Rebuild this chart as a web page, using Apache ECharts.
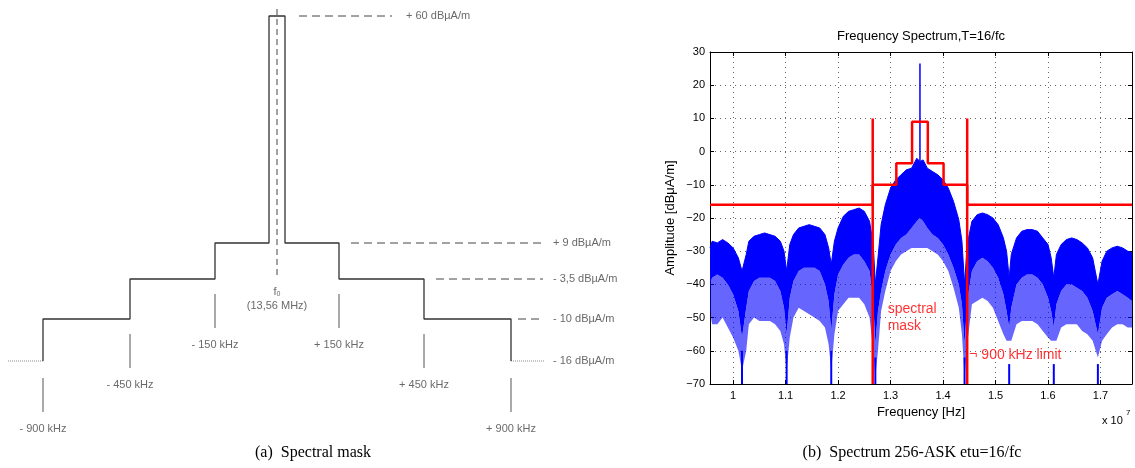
<!DOCTYPE html>
<html>
<head>
<meta charset="utf-8">
<title>Spectral mask / spectrum 256-ASK</title>
<script src="https://cdn.jsdelivr.net/npm/echarts@6/dist/echarts.min.js"></script>
<style>
  html, body { margin: 0; padding: 0; background: #fff; }
  #main { width: 1135px; height: 468px; }
</style>
</head>
<body>
<div id="main"></div>
<script>
/**
 * (a) spectral mask sketch  +  (b) spectrum 256-ASK etu=16/fc
 */

// ---- (a) the sketch is not to scale: x = drawing units from f0, y = drawing units below the +60 level
var schemLevelText = ['+ 60 dBµA/m', '+ 9 dBµA/m', '- 3,5 dBµA/m', '- 10 dBµA/m', '- 16 dBµA/m'];
var schemLevelY = [0, -227, -263, -303, -345];
var schemStepX = [-234, -147, -62, -8, 8, 62, 147, 234];
var schemStepLevel = [4, 3, 2, 1, 0, 1, 2, 3, 4];   // level index on each side of the steps
var schemOffsetText = ['- 900 kHz', '- 450 kHz', '- 150 kHz', '+ 150 kHz', '+ 450 kHz', '+ 900 kHz'];
var schemOffsetX = [-234, -147, -62, 62, 147, 234];
var schemTickTop = [-362, -318, -278, -278, -318, -362];
var schemLeaderFrom = [22, 74, 159, 241, 234];
var schemLeaderTo = [115, 266, 266, 266, 268];
var schemLabelX = [129, 276, 276, 276, 276];

// ---- (b) spectrum, frequency in MHz, level in dBµA/m
var specFreq = [
  9.56, 9.6, 9.7, 9.8, 9.9, 10.0, 10.1, 10.17, 10.25,
  10.3, 10.4, 10.5, 10.6, 10.7, 10.8, 10.9, 10.97, 11.02, 11.08,
  11.15, 11.25, 11.35, 11.45, 11.55, 11.65, 11.75, 11.82, 11.87, 11.93,
  12.0, 12.1, 12.2, 12.3, 12.4, 12.5, 12.6, 12.67, 12.71,
  12.76, 12.82, 12.9, 13.0, 13.1, 13.2, 13.3, 13.4, 13.5, 13.56, 13.62, 13.7, 13.8, 13.9, 14.0, 14.1, 14.2, 14.3, 14.36, 14.41,
  14.46, 14.55, 14.65, 14.75, 14.85, 14.95, 15.05, 15.15, 15.21, 15.26, 15.3,
  15.4, 15.5, 15.6, 15.7, 15.8, 15.9, 16.0, 16.06, 16.11, 16.16,
  16.25, 16.35, 16.45, 16.55, 16.65, 16.75, 16.85, 16.95,
  17.03, 17.12, 17.22, 17.32, 17.42, 17.52, 17.6
];
// upper edge of the trace
var specTop = [
  -29, -27, -27.5, -26.5, -27.5, -29, -32, -36, -31,
  -27, -25.5, -25, -24.5, -25, -25.5, -27, -30, -36, -28,
  -25, -23, -22.5, -22, -22.5, -23, -25, -29, -34, -27,
  -23, -19.5, -18, -17.5, -17, -18, -21, -28, -40,
  -32, -22, -16, -11, -8.5, -7, -5.5, -5, -2, -3, -2.5, -5, -6, -7, -8.5, -11, -15, -20.5, -27, -40,
  -28, -21, -19, -18.5, -19, -20, -22, -26, -30, -38, -31,
  -26, -24, -23.5, -23.5, -24, -26, -28, -32, -38, -31,
  -28, -26.5, -26, -26.5, -27.5, -29, -32, -40,
  -33, -30, -29, -28.5, -29, -30, -30.5
];
// lower edge of the dense part
var specBody = [
  -40, -38, -37, -38, -40, -43, -48, -56, -47,
  -42, -39, -38, -38, -38, -39, -42, -47, -55, -44,
  -39, -36, -35, -35, -35, -36, -40, -45, -54, -43,
  -37, -34, -32, -31, -31, -33, -36, -45, -58,
  -48, -42, -36, -31, -28, -26, -25, -23, -21, -20, -21, -23, -25, -26, -28, -31, -35, -40, -46, -58,
  -45, -36, -33, -32, -33, -35, -38, -43, -48, -53, -47,
  -40, -38, -37, -37, -38, -40, -44, -48, -53, -46,
  -42, -40, -40, -41, -42, -44, -48, -55,
  -47, -44, -43, -42, -43, -44, -45
];
// tips of the downward spikes
var specFloor = [
  -48, -52, -52, -50, -53, -56, -60, -66, -60,
  -52, -50, -51, -51, -51, -52, -54, -58, -66, -56,
  -50, -47, -48, -49, -50, -51, -53, -58, -66, -55,
  -48, -46, -44, -44, -44, -46, -50, -60, -68,
  -60, -48, -42, -36, -33, -31, -30, -29, -29, -29, -29, -29, -30, -31, -33, -36, -41, -47, -55, -68,
  -58, -46, -45, -44, -45, -47, -51, -55, -57, -57, -57,
  -52, -51, -51, -51, -52, -54, -56, -57, -57, -57,
  -53, -52, -52, -52, -54, -55, -57, -62,
  -57, -55, -53, -52, -52, -53, -53
];
// spectral nulls (every fc/16) where the trace drops to the axis floor
var dipFreq = [10.17, 11.02, 11.87, 12.71, 14.41, 15.26, 16.11, 16.95];
var dipTop = [-60, -60, -60, -62, -62, -64, -64, -64];
var dipBottom = -70;
var carrierFreq = 13.56;
var carrierPeak = 26.5;
var carrierBase = -3;

// red mask: edges and the level between them
var maskEdges = [12.66, 13.11, 13.41, 13.71, 14.01, 14.46];
var maskLevels = [-16, -10, -3.5, 9, -3.5, -10, -16];
var limitFreq = [12.66, 14.46];
var limitSpan = [-70, 10];

var fMin = 9.56, fMax = 17.6;
var freqTicks = [10, 11, 12, 13, 14, 15, 16, 17];

var BLUE = '#0000ff', RED = '#ff0000';
var SANS = '"Liberation Sans", Arial, sans-serif';
var SERIF = '"Liberation Serif", "Times New Roman", serif';

// ---------------------------------------------------------------

function segmentRenderer(style) {
    return function(params, api) {
        var a = api.coord([api.value(0), api.value(1)]);
        var b = api.coord([api.value(2), api.value(3)]);
        return {
            type: 'line',
            shape: { x1: a[0], y1: a[1], x2: b[0], y2: b[1] },
            style: Object.assign({ fill: null }, style)
        };
    };
}

function segSeries(grid, data, style, z) {
    return {
        type: 'custom',
        xAxisIndex: grid, yAxisIndex: grid,
        renderItem: segmentRenderer(style),
        encode: { x: [0, 2], y: [1, 3] },
        data: data,
        clip: false,
        silent: true,
        z: z || 3
    };
}

function labelSeries(grid, data, label, z) {
    return {
        type: 'scatter',
        xAxisIndex: grid, yAxisIndex: grid,
        symbolSize: 0,
        silent: true,
        data: data,
        label: Object.assign({ show: true, position: [0, 0], formatter: '{b}' }, label),
        z: z || 5
    };
}

// filled band between two of the read edges, one polygon for the whole trace
function bandSeries(upper, lower, style) {
    return {
        type: 'custom',
        xAxisIndex: 1, yAxisIndex: 1,
        silent: true,
        data: specFreq.map(function(f, k) { return [f, upper[k], lower[k]]; }),
        encode: { x: 0, y: [1, 2] },
        renderItem: function(params, api) {
            if (params.dataIndex !== 0) return null;
            var pts = [];
            for (var k = 0; k < specFreq.length; k++) pts.push(api.coord([specFreq[k], upper[k]]));
            for (var j = specFreq.length - 1; j >= 0; j--) pts.push(api.coord([specFreq[j], lower[j]]));
            return { type: 'polygon', shape: { points: pts }, style: style };
        },
        z: 2
    };
}

// sketch outline
var outline = [];
for (var i = 0; i < schemStepX.length; i++) {
    outline.push([schemStepX[i], schemLevelY[schemStepLevel[i]]]);
    outline.push([schemStepX[i], schemLevelY[schemStepLevel[i + 1]]]);
}
var schemTicks = schemOffsetX.map(function(x, k) {
    return [x, schemTickTop[k], x, schemTickTop[k] - 34];
});
var schemDashed = [];
var schemDotted = [[-269, schemLevelY[4], schemStepX[0], schemLevelY[4]]];
schemLevelY.forEach(function(y, k) {
    var seg = [schemLeaderFrom[k], y, schemLeaderTo[k], y];
    if (k < 4) schemDashed.push(seg); else schemDotted.push(seg);
});
var schemTexts = schemLevelText.map(function(t, k) {
    return { name: t, value: [schemLabelX[k], schemLevelY[k]] };
});
var schemOffsetLabels = schemOffsetText.map(function(t, k) {
    return { name: t, value: [schemOffsetX[k], schemTickTop[k] - 50.5] };
});

var topEdge = specFreq.map(function(f, k) { return [f, specTop[k]]; });
var dips = dipFreq.map(function(f, k) { return [f, dipTop[k], f, dipBottom]; });

// mask polyline
var maskLine = [[fMin, maskLevels[0]]];
maskEdges.forEach(function(e, k) {
    maskLine.push([e, maskLevels[k]]);
    maskLine.push([e, maskLevels[k + 1]]);
});
maskLine.push([fMax, maskLevels[maskLevels.length - 1]]);
var limits = limitFreq.map(function(f) { return [f, limitSpan[0], f, limitSpan[1]]; });

var gridLine = { show: true, lineStyle: { color: '#666', width: 1, type: [1, 4] } };
var blackLine = { show: true, onZero: false, lineStyle: { color: '#000', width: 1 } };
var tickLabel = { color: '#000', fontSize: 11, fontFamily: SANS };

var myChart = echarts.init(document.getElementById('main'));
myChart.setOption({
    animation: false,
    backgroundColor: '#fff',
    textStyle: { fontFamily: SANS },
    grid: [
        { left: 0, top: 0, width: 560, height: 468 },
        { left: 710, top: 52, width: 422, height: 332 }
    ],
    xAxis: [
        { gridIndex: 0, type: 'value', min: -277, max: 283, show: false },
        {
            gridIndex: 1, type: 'value', min: fMin, max: fMax, position: 'bottom',
            axisLine: blackLine,
            axisTick: { show: true, inside: true, length: 4, customValues: freqTicks, lineStyle: { color: '#000' } },
            axisLabel: Object.assign({ margin: 6, customValues: freqTicks, formatter: function(v) { return String(Math.round(v * 10) / 100); } }, tickLabel),
            splitLine: gridLine,
            name: 'Frequency [Hz]', nameLocation: 'middle', nameGap: 22,
            nameTextStyle: { color: '#000', fontSize: 13, fontFamily: SANS }
        },
        {
            gridIndex: 1, type: 'value', min: fMin, max: fMax, position: 'top',
            axisLine: blackLine,
            axisTick: { show: true, inside: true, length: 4, customValues: freqTicks, lineStyle: { color: '#000' } },
            axisLabel: { show: false },
            splitLine: { show: false }
        }
    ],
    yAxis: [
        { gridIndex: 0, type: 'value', min: -452, max: 16, show: false },
        {
            gridIndex: 1, type: 'value', min: -70, max: 30, interval: 10, position: 'left',
            axisLine: blackLine,
            axisTick: { show: true, inside: true, length: 4, lineStyle: { color: '#000' } },
            axisLabel: Object.assign({ margin: 5, formatter: function(v) { return v < 0 ? '\u2212' + (-v) : String(v); } }, tickLabel),
            splitLine: gridLine,
            name: 'Amplitude [dBμA/m]', nameLocation: 'middle', nameGap: 33, nameRotate: 90,
            nameTextStyle: { color: '#000', fontSize: 13, fontFamily: SANS }
        },
        {
            gridIndex: 1, type: 'value', min: -70, max: 30, interval: 10, position: 'right',
            axisLine: blackLine,
            axisTick: { show: true, inside: true, length: 4, lineStyle: { color: '#000' } },
            axisLabel: { show: false },
            splitLine: { show: false }
        }
    ],
    series: [
        // ---- (a)
        {
            type: 'line', xAxisIndex: 0, yAxisIndex: 0, data: outline,
            symbol: 'none', silent: true,
            lineStyle: { color: '#333', width: 1.3 }, z: 3
        },
        segSeries(0, schemTicks, { stroke: '#555', lineWidth: 1 }),
        segSeries(0, schemDashed, { stroke: '#444', lineWidth: 1, lineDash: [8, 5] }),
        segSeries(0, schemDotted, { stroke: '#888', lineWidth: 1, lineDash: [1, 1] }),
        segSeries(0, [[0, 7, 0, -261]], { stroke: '#444', lineWidth: 1, lineDash: [6, 4] }),
        labelSeries(0, schemTexts, { align: 'left', verticalAlign: 'middle', color: '#444', fontSize: 11 }),
        labelSeries(0, schemOffsetLabels, { align: 'center', verticalAlign: 'middle', color: '#444', fontSize: 11 }),
        labelSeries(0, [{ name: 'f0', value: [0, -276] }], {
            align: 'center', verticalAlign: 'middle', color: '#444', fontSize: 11,
            formatter: 'f{s|0}', rich: { s: { fontSize: 7, verticalAlign: 'bottom', color: '#444', padding: [4, 0, 0, 0] } }
        }),
        labelSeries(0, [{ name: '(13,56 MHz)', value: [0, -290] }], { align: 'center', verticalAlign: 'middle', color: '#444', fontSize: 11 }),

        // ---- (b)
        bandSeries(specBody, specFloor, { fill: BLUE, opacity: 0.6 }),
        bandSeries(specTop, specBody, { fill: BLUE }),
        {
            name: 'spectrum', type: 'line', xAxisIndex: 1, yAxisIndex: 1, data: topEdge,
            symbol: 'none', silent: true, lineStyle: { color: BLUE, width: 1 }, z: 2
        },
        segSeries(1, dips, { stroke: BLUE, lineWidth: 2 }, 2),
        segSeries(1, [[carrierFreq, carrierBase, carrierFreq, carrierPeak]], { stroke: BLUE, lineWidth: 1.5 }, 2),
        {
            name: 'mask', type: 'line', xAxisIndex: 1, yAxisIndex: 1, data: maskLine,
            symbol: 'none', silent: true, lineStyle: { color: RED, width: 2.5 }, z: 4
        },
        segSeries(1, limits, { stroke: RED, lineWidth: 2.5 }, 4),
        labelSeries(1, [{ name: 'spectral\nmask', value: [12.945, -50] }], {
            align: 'left', verticalAlign: 'middle', color: RED, fontSize: 14, lineHeight: 17
        }, 6),
        labelSeries(1, [{ name: '\u00ac 900 kHz limit', value: [14.5, -61.3] }], {
            align: 'left', verticalAlign: 'middle', color: RED, fontSize: 14
        }, 6)
    ],
    graphic: [
        { type: 'text', x: 921, y: 36, style: { text: 'Frequency Spectrum,T=16/fc', align: 'center', verticalAlign: 'middle', fill: '#000', font: '13px ' + SANS } },
        { type: 'text', x: 1102, y: 421, style: { text: 'x 10', align: 'left', verticalAlign: 'middle', fill: '#000', font: '11px ' + SANS } },
        { type: 'text', x: 1126, y: 413, style: { text: '7', align: 'left', verticalAlign: 'middle', fill: '#000', font: '8px ' + SANS } },
        { type: 'text', x: 313, y: 453, style: { text: '(a)  Spectral mask', align: 'center', verticalAlign: 'middle', fill: '#000', font: '16px ' + SERIF } },
        { type: 'text', x: 912, y: 453, style: { text: '(b)  Spectrum 256-ASK etu=16/fc', align: 'center', verticalAlign: 'middle', fill: '#000', font: '16px ' + SERIF } }
    ]
});
</script>
</body>
</html>
